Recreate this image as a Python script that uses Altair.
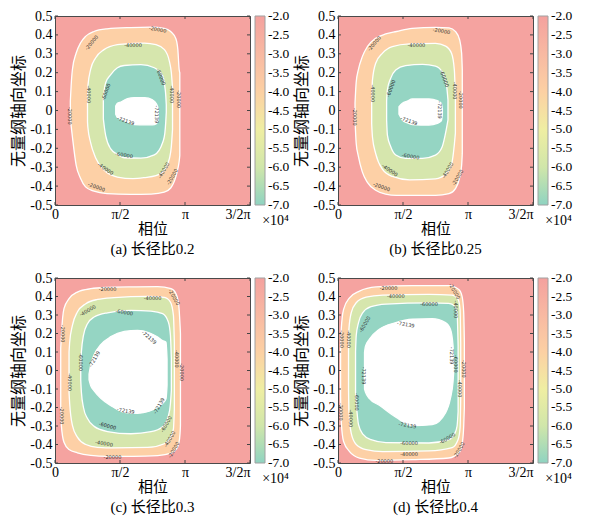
import altair as alt
import pandas as pd

SERIF = "Liberation Serif, Noto Sans CJK SC"

# ---------------- axis / legend ticks ----------------
X_TICKS = [0, 0.5, 1.0, 1.5]                       # phase in units of pi
X_TICK_LABELS = ["0", "π/2", "π", "3/2π"]
Y_TICKS = [-0.5, -0.4, -0.3, -0.2, -0.1, 0, 0.1, 0.2, 0.3, 0.4, 0.5]
CBAR_TICKS = [-7.0, -6.5, -6.0, -5.5, -5.0, -4.5, -4.0, -3.5, -3.0, -2.5, -2.0]
CBAR_STOPS = [-7.002, -6.0, -5.0, -4.0, -3.0, -1.998]
CBAR_COLORS = ["#8fd3c1", "#d0e6aa", "#efeea2", "#fcd0a3", "#f8b9a2", "#f4a19e"]
PANEL_TITLES = ["(a) 长径比0.2", "(b) 长径比0.25", "(c) 长径比0.3", "(d) 长径比0.4"]
LEVEL_NAMES = ["-20000", "-40000", "-60000", "-72139"]
BAND_FILLS = ["#fdd0a6", "#d6e6ad", "#95d5c3", "#ffffff"]
BG_FILL = "#f5a3a0"

# ---------------- contour boundaries (x in pi units, top / bottom y) ----------------
# panel (a) aspect ratio 0.2
A1_X = [0.118, 0.124, 0.134, 0.163, 0.196, 0.235, 0.30, 0.40, 0.58, 0.74, 0.84, 0.89, 0.93, 0.945, 0.955, 0.96]
A1_T = [0.05, 0.13, 0.217, 0.304, 0.357, 0.392, 0.418, 0.432, 0.439, 0.441, 0.435, 0.418, 0.38, 0.322, 0.217, 0.20]
A1_B = [-0.04, -0.08, -0.14, -0.29, -0.358, -0.404, -0.427, -0.44, -0.444, -0.442, -0.432, -0.41, -0.35, -0.308, -0.27, -0.238]
A2_X = [0.25, 0.253, 0.274, 0.312, 0.377, 0.48, 0.60, 0.687, 0.777, 0.842, 0.88, 0.895, 0.904]
A2_T = [0.06, 0.129, 0.217, 0.278, 0.322, 0.348, 0.355, 0.357, 0.348, 0.322, 0.26, 0.20, 0.12]
A2_B = [-0.06, -0.09, -0.17, -0.25, -0.315, -0.352, -0.36, -0.355, -0.345, -0.315, -0.255, -0.19, -0.10]
A3_X = [0.372, 0.38, 0.39, 0.429, 0.48, 0.532, 0.661, 0.764, 0.829, 0.845, 0.852, 0.856]
A3_T = [0.059, 0.115, 0.147, 0.19, 0.226, 0.238, 0.243, 0.226, 0.182, 0.126, 0.08, 0.03]
A3_B = [-0.045, -0.09, -0.133, -0.203, -0.232, -0.25, -0.252, -0.235, -0.168, -0.12, -0.06, -0.01]
A4_X = [0.467, 0.48, 0.506, 0.558, 0.61, 0.69, 0.75, 0.78, 0.795]
A4_T = [0.024, 0.038, 0.045, 0.063, 0.068, 0.068, 0.056, 0.035, 0.01]
A4_B = [-0.02, -0.037, -0.045, -0.062, -0.075, -0.076, -0.076, -0.07, -0.05]
# panel (b) aspect ratio 0.25
B1_X = [0.131, 0.14, 0.156, 0.187, 0.226, 0.29, 0.367, 0.45, 0.57, 0.75, 0.854, 0.905, 0.936, 0.951, 0.956]
B1_T = [0.04, 0.15, 0.214, 0.285, 0.338, 0.382, 0.405, 0.418, 0.435, 0.44, 0.437, 0.417, 0.373, 0.302, 0.214]
B1_B = [-0.05, -0.174, -0.24, -0.325, -0.38, -0.422, -0.442, -0.449, -0.449, -0.449, -0.44, -0.412, -0.354, -0.29, -0.227]
B2_X = [0.259, 0.265, 0.29, 0.341, 0.418, 0.55, 0.75, 0.828, 0.874, 0.895, 0.903]
B2_T = [0.06, 0.16, 0.25, 0.302, 0.338, 0.352, 0.355, 0.341, 0.302, 0.214, 0.07]
B2_B = [-0.07, -0.14, -0.228, -0.31, -0.349, -0.367, -0.362, -0.336, -0.284, -0.18, -0.12]
B3_X = [0.374, 0.38, 0.405, 0.444, 0.52, 0.65, 0.75, 0.80, 0.833, 0.846]
B3_T = [0.05, 0.11, 0.17, 0.214, 0.237, 0.244, 0.235, 0.205, 0.144, 0.056]
B3_B = [-0.05, -0.13, -0.19, -0.235, -0.253, -0.253, -0.236, -0.195, -0.10, -0.05]
B4_X = [0.469, 0.495, 0.533, 0.572, 0.70, 0.764, 0.795, 0.803]
B4_T = [0.02, 0.038, 0.05, 0.061, 0.061, 0.052, 0.038, 0.01]
B4_B = [-0.02, -0.05, -0.065, -0.074, -0.077, -0.068, -0.055, -0.02]
# panel (c) aspect ratio 0.3
C1_X = [0.044, 0.049, 0.069, 0.108, 0.172, 0.275, 0.404, 0.60, 0.79, 0.893, 0.931, 0.952, 0.962, 0.965]
C1_T = [0.12, 0.19, 0.334, 0.388, 0.424, 0.442, 0.449, 0.452, 0.453, 0.442, 0.415, 0.352, 0.244, 0.20]
C1_B = [-0.2, -0.298, -0.388, -0.427, -0.445, -0.459, -0.464, -0.464, -0.46, -0.447, -0.427, -0.395, -0.34, -0.298]
C2_X = [0.108, 0.113, 0.134, 0.172, 0.237, 0.327, 0.455, 0.713, 0.841, 0.888, 0.911, 0.918]
C2_T = [0.1, 0.153, 0.244, 0.316, 0.361, 0.384, 0.394, 0.401, 0.395, 0.37, 0.298, 0.153]
C2_B = [-0.12, -0.18, -0.297, -0.36, -0.4, -0.415, -0.418, -0.416, -0.396, -0.363, -0.316, -0.21]
C3_X = [0.198, 0.203, 0.219, 0.25, 0.301, 0.404, 0.584, 0.738, 0.828, 0.872, 0.888, 0.895]
C3_T = [0.04, 0.1, 0.19, 0.253, 0.289, 0.312, 0.325, 0.321, 0.307, 0.262, 0.19, 0.063]
C3_B = [-0.05, -0.117, -0.2, -0.26, -0.302, -0.33, -0.342, -0.331, -0.304, -0.245, -0.18, -0.11]
C4_X = [0.262, 0.275, 0.301, 0.352, 0.43, 0.533, 0.635, 0.725, 0.79, 0.828, 0.854, 0.862]
C4_T = [-0.02, 0.03, 0.085, 0.14, 0.183, 0.211, 0.217, 0.204, 0.181, 0.162, 0.153, 0.063]
C4_B = [-0.05, -0.082, -0.11, -0.15, -0.19, -0.226, -0.231, -0.22, -0.199, -0.178, -0.153, -0.08]
# panel (d) aspect ratio 0.4
D1_X = [0.02, 0.025, 0.043, 0.089, 0.165, 0.293, 0.573, 0.852, 0.929, 0.954, 0.967, 0.972]
D1_T = [0.1, 0.223, 0.33, 0.393, 0.429, 0.452, 0.459, 0.459, 0.438, 0.402, 0.313, 0.15]
D1_B = [-0.14, -0.277, -0.384, -0.438, -0.473, -0.486, -0.482, -0.473, -0.446, -0.402, -0.30, -0.2]
D2_X = [0.081, 0.084, 0.102, 0.14, 0.216, 0.344, 0.70, 0.878, 0.924, 0.939, 0.944]
D2_T = [0.1, 0.223, 0.313, 0.366, 0.396, 0.407, 0.411, 0.407, 0.384, 0.33, 0.15]
D2_B = [-0.1, -0.223, -0.34, -0.4, -0.428, -0.438, -0.435, -0.417, -0.373, -0.31, -0.15]
D3_X = [0.135, 0.14, 0.158, 0.191, 0.254, 0.369, 0.70, 0.852, 0.898, 0.916, 0.924]
D3_T = [0.1, 0.188, 0.259, 0.313, 0.345, 0.359, 0.366, 0.3625, 0.348, 0.313, 0.134]
D3_B = [-0.12, -0.17, -0.293, -0.344, -0.374, -0.39, -0.392, -0.374, -0.34, -0.3, -0.223]
D4_X = [0.204, 0.211, 0.242, 0.318, 0.445, 0.573, 0.725, 0.827, 0.865, 0.885, 0.891]
D4_T = [0.098, 0.13, 0.17, 0.223, 0.259, 0.277, 0.28, 0.259, 0.223, 0.134, 0.01]
D4_B = [-0.1, -0.116, -0.152, -0.188, -0.252, -0.298, -0.293, -0.229, -0.15, -0.06, 0.0]

# ---------------- contour labels (x, y, angle, text) ----------------
LA_X = [0.79, 0.28, 0.60, 0.114, 0.26, 0.39, 0.816, 0.898, 0.95, 0.545, 0.782, 0.532, 0.39, 0.834, 0.32, 0.90]
LA_Y = [0.43, 0.36, 0.348, -0.028, 0.086, 0.098, 0.178, 0.086, 0.06, -0.054, -0.02, -0.234, -0.308, -0.316, -0.404, -0.35]
LA_A = [10, 310, 0, 90, 90, 290, 70, 90, 90, 20, 90, 10, 35, 300, 20, 300]
LA_T = ["-20000", "-20000", "-40000", "-20000", "-40000", "-60000", "-60000", "-40000", "-20000",
        "-72139", "-72139", "-60000", "-40000", "-40000", "-20000", "-20000"]
LB_X = [0.797, 0.277, 0.603, 0.131, 0.269, 0.405, 0.82, 0.90, 0.949, 0.546, 0.782, 0.559, 0.40, 0.841, 0.336, 0.918]
LB_Y = [0.422, 0.355, 0.347, -0.033, 0.091, 0.117, 0.17, 0.105, 0.056, -0.054, 0.003, -0.241, -0.315, -0.315, -0.403, -0.354]
LB_A = [10, 310, 0, 90, 90, 290, 70, 90, 90, 20, 90, 10, 35, 300, 20, 300]
LB_T = ["-20000", "-20000", "-40000", "-20000", "-40000", "-60000", "-60000", "-40000", "-20000",
        "-72139", "-72139", "-60000", "-40000", "-40000", "-20000", "-20000"]
LC_X = [0.404, 0.918, 0.751, 0.25, 0.533, 0.062, 0.725, 0.301, 0.198, 0.936, 0.978, 0.116, 0.057,
        0.545, 0.798, 0.404, 0.854, 0.378, 0.88, 0.442, 0.911]
LC_Y = [0.442, 0.397, 0.394, 0.325, 0.316, 0.199, 0.18, 0.063, 0.045, 0.063, -0.009, -0.063, -0.244,
        -0.217, -0.19, -0.298, -0.289, -0.393, -0.37, -0.469, -0.428]
LC_A = [0, 60, 0, 330, 10, 90, 40, 300, 90, 90, 90, 90, 90, 10, 300, 15, 300, 10, 300, 0, 300]
LC_T = ["-20000", "-20000", "-40000", "-40000", "-60000", "-20000", "-72139", "-72139", "-60000",
        "-40000", "-20000", "-40000", "-20000", "-72139", "-72139", "-60000", "-60000", "-40000",
        "-40000", "-20000", "-20000"]
LD_X = [0.389, 0.898, 0.445, 0.70, 0.908, 0.522, 0.204, 0.033, 0.081, 0.878, 0.911, 0.972, 0.198,
        0.942, 0.145, 0.025, 0.102, 0.534, 0.84, 0.547, 0.547, 0.356, 0.929]
LD_Y = [0.446, 0.429, 0.405, 0.361, 0.33, 0.25, 0.25, 0.17, 0.17, 0.08, 0.036, 0.009, -0.027,
        -0.098, -0.17, -0.223, -0.259, -0.295, -0.366, -0.393, -0.452, -0.488, -0.429]
LD_A = [0, 60, 0, 0, 90, 10, 300, 90, 90, 90, 90, 90, 90, 90, 90, 90, 90, 10, 330, 0, 0, 0, 300]
LD_T = ["-20000", "-20000", "-40000", "-60000", "-40000", "-72139", "-60000", "-20000", "-40000",
        "-72139", "-60000", "-20000", "-72139", "-40000", "-60000", "-20000", "-40000", "-72139",
        "-60000", "-60000", "-40000", "-20000", "-20000"]

PANELS = [
    dict(title=PANEL_TITLES[0], bands=[(A1_X, A1_T, A1_B), (A2_X, A2_T, A2_B), (A3_X, A3_T, A3_B), (A4_X, A4_T, A4_B)],
         labels=(LA_X, LA_Y, LA_A, LA_T)),
    dict(title=PANEL_TITLES[1], bands=[(B1_X, B1_T, B1_B), (B2_X, B2_T, B2_B), (B3_X, B3_T, B3_B), (B4_X, B4_T, B4_B)],
         labels=(LB_X, LB_Y, LB_A, LB_T)),
    dict(title=PANEL_TITLES[2], bands=[(C1_X, C1_T, C1_B), (C2_X, C2_T, C2_B), (C3_X, C3_T, C3_B), (C4_X, C4_T, C4_B)],
         labels=(LC_X, LC_Y, LC_A, LC_T)),
    dict(title=PANEL_TITLES[3], bands=[(D1_X, D1_T, D1_B), (D2_X, D2_T, D2_B), (D3_X, D3_T, D3_B), (D4_X, D4_T, D4_B)],
         labels=(LD_X, LD_Y, LD_A, LD_T)),
]

W = 195
ROW_H = [189, 185]
MINUS = "−"

x_label_expr = " : ".join(
    f"datum.value == {v} ? '{t}'" for v, t in zip(X_TICKS[:-1], X_TICK_LABELS[:-1])
) + f" : '{X_TICK_LABELS[-1]}'"
y_label_expr = f"replace(format(datum.value, '.1~f'), '{MINUS}', '-')"
c_label_expr = f"replace(format(datum.value, '.1f'), '{MINUS}', '-')"

x_scale = alt.Scale(domain=[0, 1.5], nice=False, zero=False)
y_scale = alt.Scale(domain=[-0.5, 0.5], nice=False, zero=False)

x_axis = alt.Axis(
    values=X_TICKS, labelExpr=x_label_expr, title="相位",
    labelAlign={"condition": {"test": f"datum.value == {X_TICKS[-1]}", "value": "right"}, "value": "center"},
    labelFont=SERIF, labelFontSize=14, labelColor="black", labelPadding=2,
    titleFont=SERIF, titleFontSize=15, titleFontWeight="normal", titleColor="black", titlePadding=0,
    ticks=False, domain=False, grid=False,
)
y_axis = alt.Axis(
    values=Y_TICKS, labelExpr=y_label_expr, title="无量纲轴向坐标",
    labelFont=SERIF, labelFontSize=14, labelColor="black", labelPadding=3,
    titleFont=SERIF, titleFontSize=16, titleFontWeight="normal", titleColor="black", titlePadding=3,
    ticks=False, domain=False, grid=False,
)

color_scale = alt.Scale(domain=CBAR_STOPS, range=CBAR_COLORS, interpolate="rgb", nice=False, zero=False)


def make_legend(h):
    return alt.Legend(
        title="×10⁴", titleOrient="bottom", titleAnchor="end", titleFont=SERIF, titleFontSize=14,
        titleFontWeight="normal", titleColor="black", titlePadding=3,
        gradientLength=h, gradientThickness=10, gradientStrokeColor="#a0a0a0", gradientStrokeWidth=1,
        values=CBAR_TICKS, labelExpr=c_label_expr, labelFont=SERIF, labelFontSize=13.5, labelColor="black",
        labelOverlap=False, labelOffset=3, offset=5, orient="right", direction="vertical",
    )


def make_panel(p, H):
    layers = []
    for (xs, ts, bs), fill in zip(p["bands"], BAND_FILLS):
        df = pd.DataFrame({"x": xs, "top": ts, "bot": bs})
        layers.append(
            alt.Chart(df).mark_area(
                interpolate="monotone", fill=fill, fillOpacity=1,
                stroke="white", strokeWidth=1.3, strokeOpacity=1,
            ).encode(
                x=alt.X("x:Q", scale=x_scale, axis=x_axis),
                y=alt.Y("top:Q", scale=y_scale, axis=y_axis),
                y2="bot:Q",
            )
        )
    lx, ly, la, lt = p["labels"]
    lab = pd.DataFrame({"x": lx, "y": ly, "a": la, "t": lt})
    layers.append(
        alt.Chart(lab).mark_text(fontSize=5, font="DejaVu Sans", color="#333333").encode(
            x=alt.X("x:Q", scale=x_scale, axis=x_axis),
            y=alt.Y("y:Q", scale=y_scale, axis=y_axis),
            text="t:N",
            angle=alt.Angle("a:Q", scale=None),
        )
    )
    yt = pd.DataFrame({"v": Y_TICKS})
    xt = pd.DataFrame({"v": X_TICKS})
    for xa, xb in [(0, 3), (W - 3, W)]:
        layers.append(alt.Chart(yt).mark_rule(color="#444444", strokeWidth=1).encode(
            y=alt.Y("v:Q", scale=y_scale, axis=y_axis), x=alt.value(xa), x2=alt.value(xb)))
    for ya, yb in [(H - 3, H), (0, 3)]:
        layers.append(alt.Chart(xt).mark_rule(color="#444444", strokeWidth=1).encode(
            x=alt.X("v:Q", scale=x_scale, axis=x_axis), y=alt.value(ya), y2=alt.value(yb)))
    leg = pd.DataFrame({"v": [CBAR_TICKS[0], CBAR_TICKS[-1]]})
    layers.append(
        alt.Chart(leg).mark_point(opacity=0, size=1).encode(
            x=alt.value(0), y=alt.value(0),
            color=alt.Color("v:Q", scale=color_scale, legend=make_legend(H)),
        )
    )
    return alt.layer(*layers).properties(
        width=W, height=H,
        title=alt.TitleParams(
            text=p["title"], orient="bottom", anchor="middle", frame="group",
            font=SERIF, fontSize=15, fontWeight="normal", color="black", offset=6,
        ),
    )


panels = [make_panel(p, ROW_H[i // 2]) for i, p in enumerate(PANELS)]
row1 = alt.hconcat(panels[0], panels[1], spacing=2).resolve_scale(color="independent").resolve_legend(color="independent")
row2 = alt.hconcat(panels[2], panels[3], spacing=2).resolve_scale(color="independent").resolve_legend(color="independent")
chart = (
    alt.vconcat(row1, row2, spacing=12)
    .resolve_scale(color="independent")
    .resolve_legend(color="independent")
    .properties(padding={"left": 2, "top": 0, "right": 0, "bottom": 0}, background="white")
    .configure_view(fill=BG_FILL, stroke="#4a4a4a", strokeWidth=1)
)

chart.save("out.html", embed_options={"renderer": "svg", "actions": False})
